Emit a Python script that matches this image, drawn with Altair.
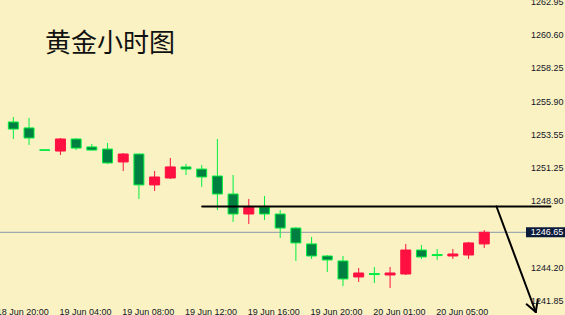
import altair as alt
import pandas as pd

# ---- data (hourly gold candles) ----
bar_index = list(range(31))
opens  = [1254.43, 1254.01, 1252.47, 1252.38, 1253.23, 1252.67, 1252.52, 1251.61, 1252.17, 1249.99,
          1250.48, 1251.26, 1251.11, 1250.62, 1249.35, 1247.94, 1248.43, 1247.94, 1246.95, 1245.83,
          1244.98, 1244.63, 1243.50, 1243.74, 1243.64, 1243.71, 1245.40, 1245.08, 1244.98, 1245.05,
          1245.83]
highs  = [1254.78, 1254.71, 1252.47, 1253.30, 1253.30, 1252.88, 1252.95, 1252.24, 1252.21, 1250.97,
          1251.89, 1251.47, 1251.40, 1253.23, 1250.69, 1249.00, 1249.21, 1248.22, 1247.02, 1246.32,
          1245.05, 1244.98, 1244.13, 1244.20, 1244.20, 1245.83, 1245.75, 1245.47, 1245.47, 1245.97,
          1246.81]
lows   = [1253.23, 1252.81, 1252.43, 1252.10, 1252.45, 1252.42, 1251.47, 1250.97, 1249.00, 1249.56,
          1250.41, 1250.69, 1249.85, 1248.22, 1247.38, 1247.24, 1247.52, 1246.25, 1244.63, 1244.77,
          1243.85, 1242.86, 1243.15, 1243.07, 1242.72, 1243.64, 1244.77, 1244.70, 1244.77, 1244.77,
          1245.54]
closes = [1253.93, 1253.30, 1252.43, 1253.23, 1252.59, 1252.45, 1251.54, 1252.17, 1249.99, 1250.55,
          1251.26, 1251.11, 1250.55, 1249.35, 1247.94, 1248.43, 1247.94, 1246.95, 1245.90, 1244.98,
          1244.70, 1243.36, 1243.78, 1243.67, 1243.78, 1245.40, 1244.91, 1245.01, 1245.12, 1245.90,
          1246.65]

price_ticks = [1262.95, 1260.60, 1258.25, 1255.90, 1253.55, 1251.25, 1248.90, 1244.20, 1241.85]
time_label_index = [-1, 3, 7, 11, 15, 19, 23, 27]
time_labels = ["18 Jun 20:00", "19 Jun 04:00", "19 Jun 08:00", "19 Jun 12:00",
               "19 Jun 16:00", "19 Jun 20:00", "20 Jun 01:00", "20 Jun 05:00"]
current_price = 1246.65
title_text = "黄金小时图"

# hand-drawn annotation: horizontal level and downward arrow (bar index, price)
seg_x  = [12.03, 30.78, 33.28, 33.28]
seg_y  = [1248.47, 1248.47, 1241.03, 1241.03]
seg_x2 = [34.22, 33.28, 32.70, 33.41]
seg_y2 = [1248.47, 1241.03, 1241.57, 1241.88]

# ---- tables ----
candles = pd.DataFrame({"i": bar_index, "open": opens, "high": highs, "low": lows, "close": closes})
candles["dir"] = ["up" if c > o else "down" for o, c in zip(opens, closes)]
tlab = pd.DataFrame({"i": time_label_index, "label": time_labels})
segs = pd.DataFrame({"x": seg_x, "y": seg_y, "x2": seg_x2, "y2": seg_y2})
cur = pd.DataFrame({"p": [current_price], "t": [f"{current_price:.2f}"]})
ttl = pd.DataFrame({"t": [title_text]})

FONT = "Liberation Sans"
LABEL_COLOR = "#141428"
RED = "#FF1040"
DARK_GREEN = "#008040"
LIME = "#00F040"

x_scale = alt.Scale(domain=[-0.53125, 32.46875], nice=False, zero=False)
y_scale = alt.Scale(domain=[1241.805, 1263.032], nice=False, zero=False)
y_axis = alt.Axis(orient="right", values=price_ticks, format=".2f", title=None, ticks=False,
                  domain=False, grid=False, labelAlign="left", labelBaseline="middle",
                  labelPadding=2.5, labelFont=FONT, labelFontSize=9, labelColor=LABEL_COLOR,
                  labelFlush=False, labelOverlap=False)

fill_scale = alt.Scale(domain=["up", "down"], range=[RED, DARK_GREEN])
stroke_scale = alt.Scale(domain=["up", "down"], range=[RED, LIME])

base = alt.Chart(candles)

wicks = base.mark_rule(strokeWidth=1).encode(
    x=alt.X("i:Q", scale=x_scale, axis=None),
    y=alt.Y("low:Q", scale=y_scale, axis=y_axis),
    y2="high:Q",
    stroke=alt.Stroke("dir:N", scale=stroke_scale, legend=None),
)

bodies = base.mark_bar(size=10, strokeWidth=1).encode(
    x=alt.X("i:Q", scale=x_scale, axis=None),
    y=alt.Y("open:Q", scale=y_scale, axis=y_axis),
    y2="close:Q",
    fill=alt.Fill("dir:N", scale=fill_scale, legend=None),
    stroke=alt.Stroke("dir:N", scale=stroke_scale, legend=None),
)

cur_line = alt.Chart(cur).mark_rule(color="#8898A8", strokeWidth=1).encode(
    x=alt.value(0), x2=alt.value(526),
    y=alt.Y("p:Q", scale=y_scale, axis=y_axis),
)

cur_box = alt.Chart(cur).mark_rule(color="#0B1B3B", strokeWidth=10).encode(
    x=alt.value(526), x2=alt.value(565),
    y=alt.Y("p:Q", scale=y_scale, axis=y_axis),
)

cur_text = alt.Chart(cur).mark_text(align="left", baseline="middle", font=FONT, fontSize=9,
                                    color="white").encode(
    x=alt.value(530.7),
    y=alt.Y("p:Q", scale=y_scale, axis=y_axis),
    text="t:N",
)

arrow = alt.Chart(segs).mark_rule(color="black", strokeWidth=2, strokeCap="round").encode(
    x=alt.X("x:Q", scale=x_scale, axis=None),
    y=alt.Y("y:Q", scale=y_scale, axis=y_axis),
    x2="x2:Q",
    y2="y2:Q",
)

time_axis = alt.Chart(tlab).mark_text(align="left", baseline="alphabetic", dx=-1, font=FONT,
                                      fontSize=9, color=LABEL_COLOR).encode(
    x=alt.X("i:Q", scale=x_scale, axis=None),
    y=alt.value(314.5),
    text="label:N",
)

title = alt.Chart(ttl).mark_text(align="left", baseline="alphabetic", font="Noto Sans CJK SC",
                                 fontSize=26, color="#111111").encode(
    x=alt.value(45), y=alt.value(52), text="t:N",
)

chart = alt.layer(cur_line, wicks, bodies, arrow, cur_box, cur_text, time_axis, title).properties(
    width=528, height=301,
    padding={"left": 0, "top": 0, "right": 37, "bottom": 14},
    autosize=alt.AutoSizeParams(type="none"),
    background="#FAF2C3",
).configure_view(stroke=None)

chart.save("out.html", embed_options={"renderer": "svg", "actions": False})
